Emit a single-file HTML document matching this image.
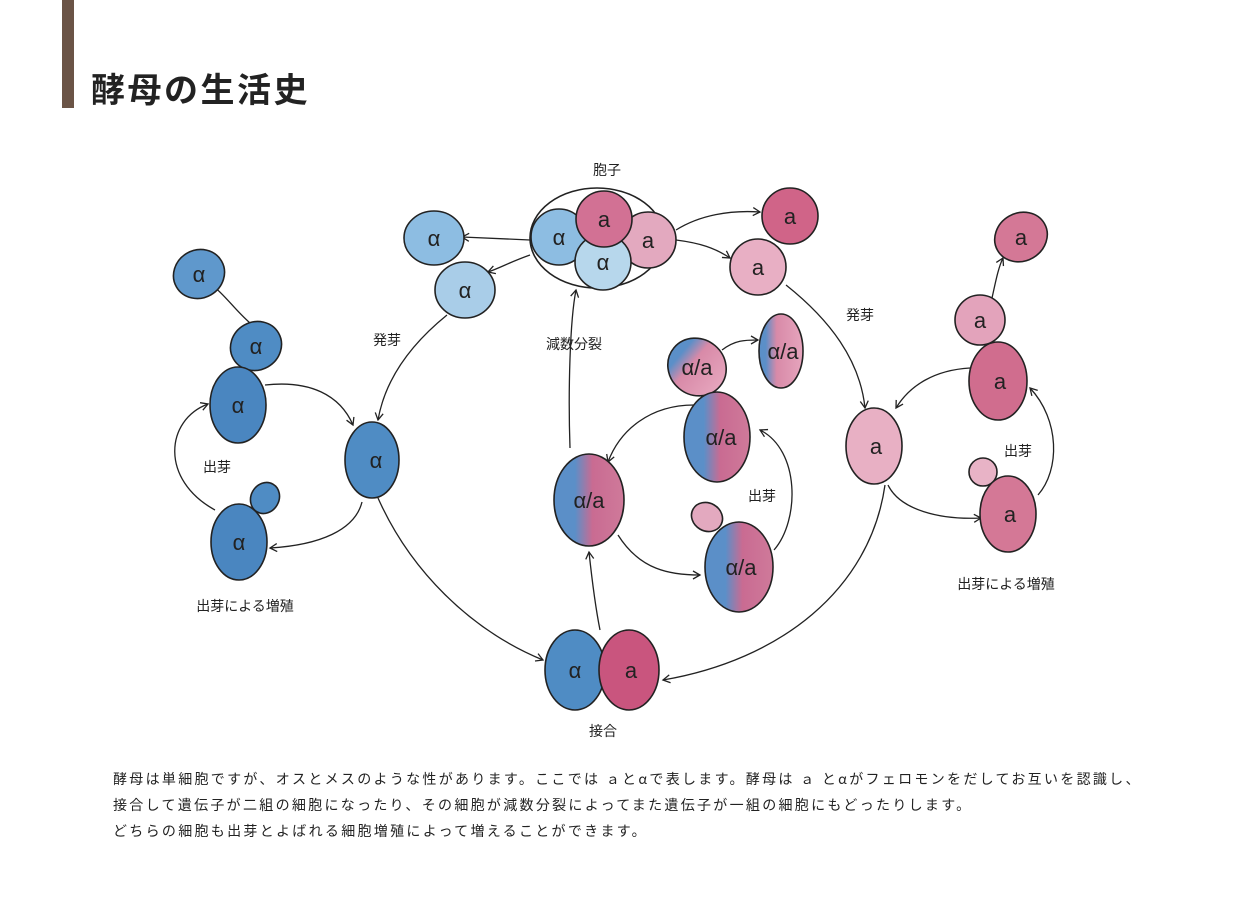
<!DOCTYPE html>
<html><head><meta charset="utf-8"><style>
html,body{margin:0;padding:0;background:#fff;width:1247px;height:902px;overflow:hidden}
body{position:relative;font-family:"Liberation Sans","Noto Sans CJK JP",sans-serif}
.bar{position:absolute;left:62px;top:0;width:12px;height:108px;background:#6b5446}
h1{position:absolute;left:91px;top:63px;margin:0;font-size:34px;font-weight:bold;color:#222;font-family:"Noto Sans CJK JP",sans-serif;letter-spacing:2.5px}
.p{position:absolute;left:113px;top:766px;font-size:14px;line-height:26px;color:#222;font-family:"Noto Sans CJK JP",sans-serif;letter-spacing:2.3px;white-space:nowrap}
svg{position:absolute;left:0;top:0}
</style></head><body>
<div class="bar"></div>
<h1>酵母の生活史</h1>
<svg width="1247" height="902" viewBox="0 0 1247 902" font-family="Liberation Sans, Noto Sans CJK JP, sans-serif">
<defs>
<marker id="m" markerWidth="10" markerHeight="10" refX="8" refY="5" orient="auto" markerUnits="userSpaceOnUse"><path d="M1,1 L8,5 L1,9" fill="none" stroke="#222" stroke-width="1.3"/></marker>
<linearGradient id="g" x1="0" x2="1" y1="0" y2="0"><stop offset="0.3" stop-color="#5b8fc8"/><stop offset="0.55" stop-color="#c96b92"/><stop offset="1" stop-color="#cf7a9a"/></linearGradient>
<linearGradient id="g2" x1="0" x2="1"><stop offset="0.15" stop-color="#5b8fc8"/><stop offset="0.4" stop-color="#d88aa8"/><stop offset="1" stop-color="#e6a5bd"/></linearGradient>
</defs>
<g fill="none" stroke="#222" stroke-width="1.3" marker-end="url(#m)">
<path d="M250,323 C235,310 225,295 212,285"/>
<path d="M265,385 C310,380 340,395 353,425"/>
<path d="M362,502 C355,530 320,545 270,548"/>
<path d="M215,510 C160,480 165,420 208,404"/>
<path d="M447,315 C410,345 385,380 378,420"/>
<path d="M530,240 L462,237"/>
<path d="M530,255 C510,262 500,268 488,272"/>
<path d="M676,230 C700,215 730,210 760,212"/>
<path d="M676,240 C700,243 715,248 730,258"/>
<path d="M786,285 C830,320 860,360 865,408"/>
<path d="M570,448 C568,390 570,320 576,290"/>
<path d="M378,498 C410,570 470,630 543,660"/>
<path d="M600,630 C596,610 592,580 589,552"/>
<path d="M885,485 C870,590 780,660 663,680"/>
<path d="M970,368 C935,370 910,385 896,408"/>
<path d="M888,485 C900,510 940,520 981,518"/>
<path d="M1038,495 C1060,470 1060,420 1030,388"/>
<path d="M992,298 C995,285 998,268 1003,258"/>
<path d="M694,405 C650,405 620,430 608,462"/>
<path d="M618,535 C640,570 670,575 700,575"/>
<path d="M774,550 C800,520 800,450 760,430"/>
<path d="M722,350 C735,340 745,340 758,340"/>
</g>
<g stroke="#222" stroke-width="1.6">
<ellipse cx="199" cy="274" rx="26" ry="24" fill="#5f98cc" transform="rotate(-30 199 274)"/>
<ellipse cx="256" cy="346" rx="26" ry="24" fill="#4f8cc4" transform="rotate(-30 256 346)"/>
<ellipse cx="238" cy="405" rx="28" ry="38" fill="#4a86c0"/>
<ellipse cx="265" cy="498" rx="14" ry="16" fill="#4f8cc4" transform="rotate(30 265 498)"/>
<ellipse cx="239" cy="542" rx="28" ry="38" fill="#4a86c0"/>
<ellipse cx="372" cy="460" rx="27" ry="38" fill="#4f8cc4"/>
<ellipse cx="434" cy="238" rx="30" ry="27" fill="#8dbde2"/>
<ellipse cx="465" cy="290" rx="30" ry="28" fill="#a9cde8"/>
<ellipse cx="597" cy="238" rx="67" ry="50" fill="#fff"/>
<circle cx="559" cy="237" r="28" fill="#8dbde2"/>
<circle cx="648" cy="240" r="28" fill="#e3a9bf"/>
<circle cx="603" cy="262" r="28" fill="#b7d7ec"/>
<circle cx="604" cy="219" r="28" fill="#d27194"/>
<circle cx="790" cy="216" r="28" fill="#d06488"/>
<circle cx="758" cy="267" r="28" fill="#e8afc4"/>
<ellipse cx="874" cy="446" rx="28" ry="38" fill="#e8b0c4"/>
<ellipse cx="1021" cy="237" rx="27" ry="24" fill="#d47896" transform="rotate(-30 1021 237)"/>
<ellipse cx="980" cy="320" rx="25" ry="25" fill="#e3a3bb"/>
<ellipse cx="998" cy="381" rx="29" ry="39" fill="#d06d8e"/>
<ellipse cx="983" cy="472" rx="14" ry="14" fill="#e8b3c6"/>
<ellipse cx="1008" cy="514" rx="28" ry="38" fill="#d47896"/>
<ellipse cx="697" cy="367" rx="30" ry="28" fill="url(#g2)" transform="rotate(40 697 367)"/>
<ellipse cx="781" cy="351" rx="22" ry="37" fill="url(#g2)"/>
<ellipse cx="717" cy="437" rx="33" ry="45" fill="url(#g)"/>
<ellipse cx="589" cy="500" rx="35" ry="46" fill="url(#g)"/>
<ellipse cx="707" cy="517" rx="16" ry="14" fill="#e3a9bf" transform="rotate(30 707 517)"/>
<ellipse cx="739" cy="567" rx="34" ry="45" fill="url(#g)"/>
<ellipse cx="575" cy="670" rx="30" ry="40" fill="#4f8cc4"/>
<ellipse cx="629" cy="670" rx="30" ry="40" fill="#c9557e"/>
</g>
<g font-size="22" fill="#222" text-anchor="middle">
<text x="199" y="282">α</text><text x="256" y="354">α</text><text x="238" y="413">α</text>
<text x="239" y="550">α</text><text x="376" y="468">α</text><text x="434" y="246">α</text>
<text x="465" y="298">α</text><text x="559" y="245">α</text><text x="603" y="270">α</text>
<text x="604" y="227">a</text><text x="648" y="248">a</text><text x="790" y="224">a</text>
<text x="758" y="275">a</text><text x="876" y="454">a</text><text x="1021" y="245">a</text>
<text x="980" y="328">a</text><text x="1000" y="389">a</text><text x="1010" y="522">a</text>
<text x="697" y="375">α/a</text><text x="783" y="359">α/a</text><text x="721" y="445">α/a</text>
<text x="589" y="508">α/a</text><text x="741" y="575">α/a</text>
<text x="575" y="678">α</text><text x="631" y="678">a</text>
</g>
<g font-size="14" fill="#222" text-anchor="middle" font-family="Noto Sans CJK JP, sans-serif">
<text x="607" y="175">胞子</text><text x="387" y="345">発芽</text><text x="574" y="349">減数分裂</text>
<text x="860" y="320">発芽</text><text x="217" y="472">出芽</text><text x="762" y="501">出芽</text>
<text x="1018" y="456">出芽</text><text x="245" y="611">出芽による増殖</text>
<text x="1006" y="589">出芽による増殖</text><text x="603" y="736">接合</text>
</g>
</svg>
<div class="p">酵母は単細胞ですが、オスとメスのような性があります。ここでは ａとαで表します。酵母は ａ とαがフェロモンをだしてお互いを認識し、<br>接合して遺伝子が二組の細胞になったり、その細胞が減数分裂によってまた遺伝子が一組の細胞にもどったりします。<br>どちらの細胞も出芽とよばれる細胞増殖によって増えることができます。</div>
</body></html>
